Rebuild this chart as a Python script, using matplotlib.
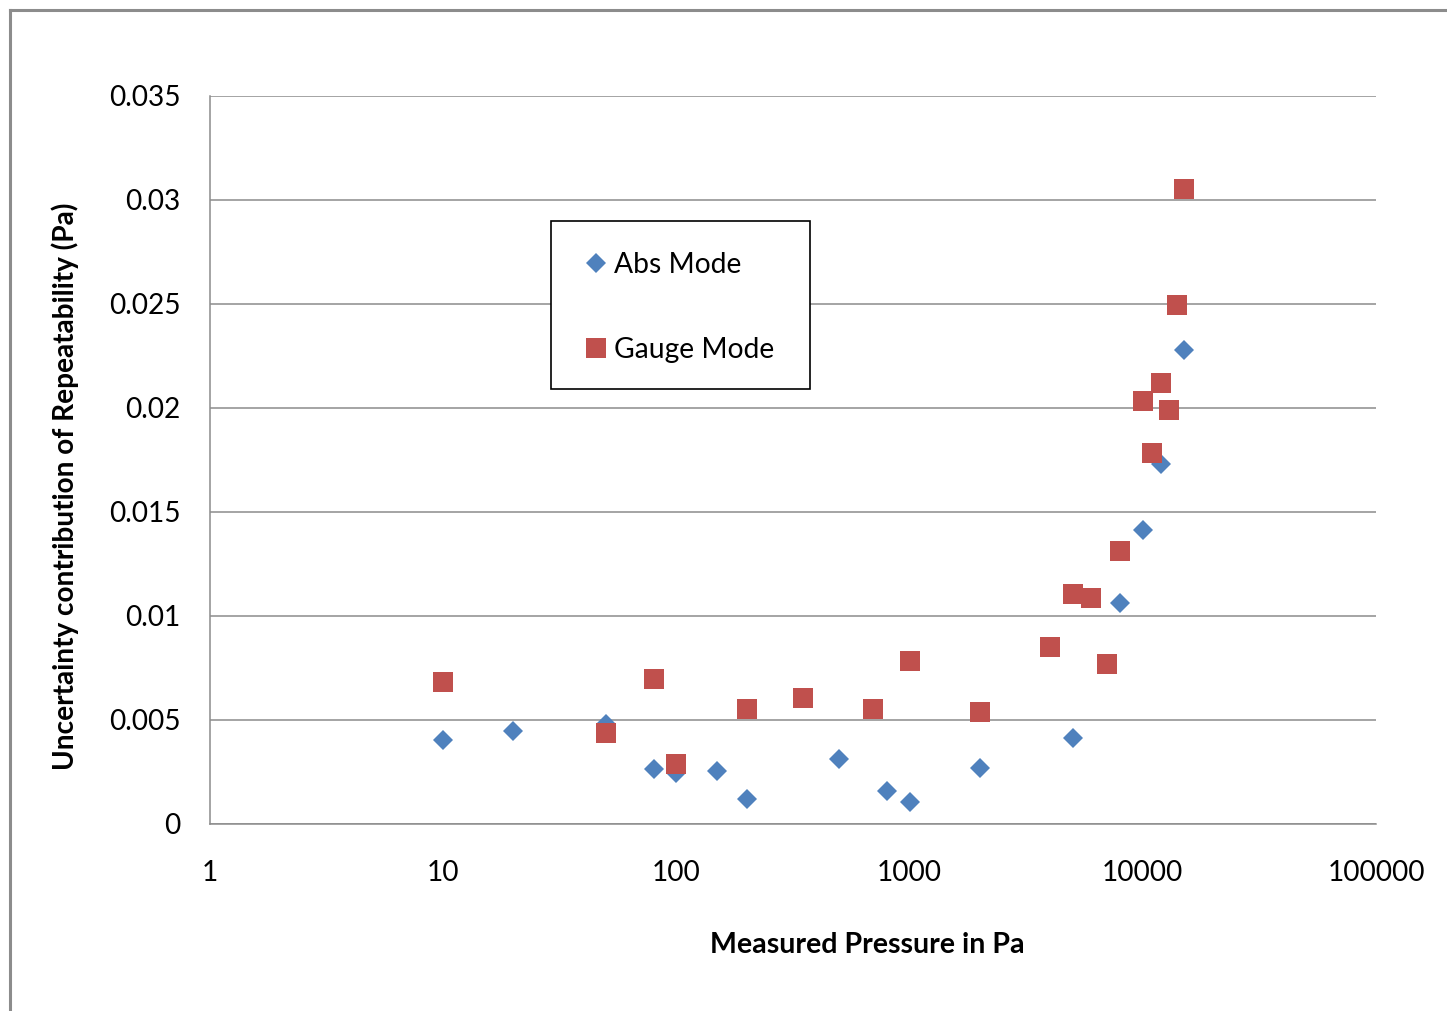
import matplotlib
matplotlib.use("Agg")
import matplotlib.pyplot as plt
from matplotlib.lines import Line2D
from matplotlib.patches import Rectangle
from matplotlib.ticker import FixedLocator, FixedFormatter

# ---- data ----
abs_pressure = [10, 20, 50, 80, 100, 150, 200, 500, 800, 1000, 2000, 5000, 8000, 10000, 12000, 15000]
abs_uncert = [0.00404, 0.00447, 0.0048, 0.00264, 0.00245, 0.00255, 0.0012, 0.00313, 0.00159, 0.00106,
              0.00269, 0.00413, 0.01063, 0.01413, 0.0173, 0.02279]

gauge_pressure = [10, 50, 80, 100, 200, 350, 700, 1000, 2000, 4000, 5000, 6000, 7000, 8000,
                  11000, 10000, 12000, 13000, 14000, 15000]
gauge_uncert = [0.00683, 0.00438, 0.00697, 0.00288, 0.00553, 0.00606, 0.00553, 0.00784, 0.00538,
                0.00851, 0.01106, 0.01087, 0.00769, 0.01313, 0.01784, 0.02034, 0.0212, 0.0199,
                0.02495, 0.03053]

x_ticks = [1, 10, 100, 1000, 10000, 100000]
x_tick_labels = ["1", "10", "100", "1000", "10000", "100000"]
y_ticks = [0, 0.005, 0.01, 0.015, 0.02, 0.025, 0.03, 0.035]
y_tick_labels = ["0", "0.005", "0.01", "0.015", "0.02", "0.025", "0.03", "0.035"]

series_names = ["Abs Mode", "Gauge Mode"]
x_label = "Measured Pressure in Pa"
y_label = "Uncertainty contribution of Repeatability (Pa)"

BLUE = "#4F81BD"
RED = "#C0504D"
FONT = ["Lato", "DejaVu Sans"]
plt.rcParams["font.family"] = FONT

W, H = 1447, 1011
fig = plt.figure(figsize=(W / 100, H / 100), dpi=100)
fig.patch.set_facecolor("white")

L, R, T, B = 210, 1376, 96, 824
ax = fig.add_axes([L / W, 1 - B / H, (R - L) / W, (B - T) / H])

ax.set_xscale("log")
ax.set_xlim(1, 100000)
ax.set_ylim(0, 0.035)

ax.xaxis.set_major_locator(FixedLocator(x_ticks))
ax.xaxis.set_major_formatter(FixedFormatter(x_tick_labels))
ax.xaxis.set_minor_locator(FixedLocator([]))
ax.yaxis.set_major_locator(FixedLocator(y_ticks))
ax.yaxis.set_major_formatter(FixedFormatter(y_tick_labels))

ax.grid(axis="y", color="#8c8c8c", linewidth=1.1, zorder=0)
ax.set_axisbelow(True)
for s in ["top", "right"]:
    ax.spines[s].set_visible(False)
for s in ["left", "bottom"]:
    ax.spines[s].set_color("#8c8c8c")
    ax.spines[s].set_linewidth(1.1)

ax.tick_params(axis="both", which="both", length=0, labelsize=20.2, colors="black")
ax.tick_params(axis="y", pad=21)
ax.tick_params(axis="x", pad=26)

ax.plot(abs_pressure, abs_uncert, linestyle="none", marker="D", markersize=10.3,
        color=BLUE, markeredgewidth=0, zorder=3, clip_on=False)
ax.plot(gauge_pressure, gauge_uncert, linestyle="none", marker="s", markersize=15,
        color=RED, markeredgewidth=0, zorder=4, clip_on=False)

# legend box
fig.add_artist(Rectangle((551 / W, 1 - 389 / H), (810 - 551) / W, (389 - 221) / H,
                         transform=fig.transFigure, facecolor="white", edgecolor="black",
                         linewidth=1.2, zorder=5))
handles = [Line2D([], [], linestyle="none", marker="D", markersize=10.3, color=BLUE, markeredgewidth=0),
           Line2D([], [], linestyle="none", marker="s", markersize=15, color=RED, markeredgewidth=0)]
leg = fig.legend(handles, series_names, loc="upper left",
                 bbox_to_anchor=(551 / W, 1 - 218 / H), bbox_transform=fig.transFigure,
                 fontsize=20.3, frameon=False, borderpad=1.2,
                 labelspacing=2.1, handlelength=0.8, handletextpad=0.25, borderaxespad=0)
leg.set_zorder(6)

fig.text(867 / W, 1 - 945 / H, x_label, ha="center", va="center", fontsize=20.6, fontweight="bold")
fig.text(65 / W, 1 - 486 / H, y_label, ha="center", va="center", rotation=90,
         fontsize=20.2, fontweight="bold")

# outer chart border (left and top edges visible in the reference)
fig.add_artist(Line2D([10 / W, 10 / W], [0, 1 - 10 / H], transform=fig.transFigure,
                      color="#8c8c8c", linewidth=2.2))
fig.add_artist(Line2D([10 / W, 1], [1 - 10 / H, 1 - 10 / H], transform=fig.transFigure,
                      color="#8c8c8c", linewidth=2.2))

fig.savefig("out.png", dpi=100, facecolor="white")
